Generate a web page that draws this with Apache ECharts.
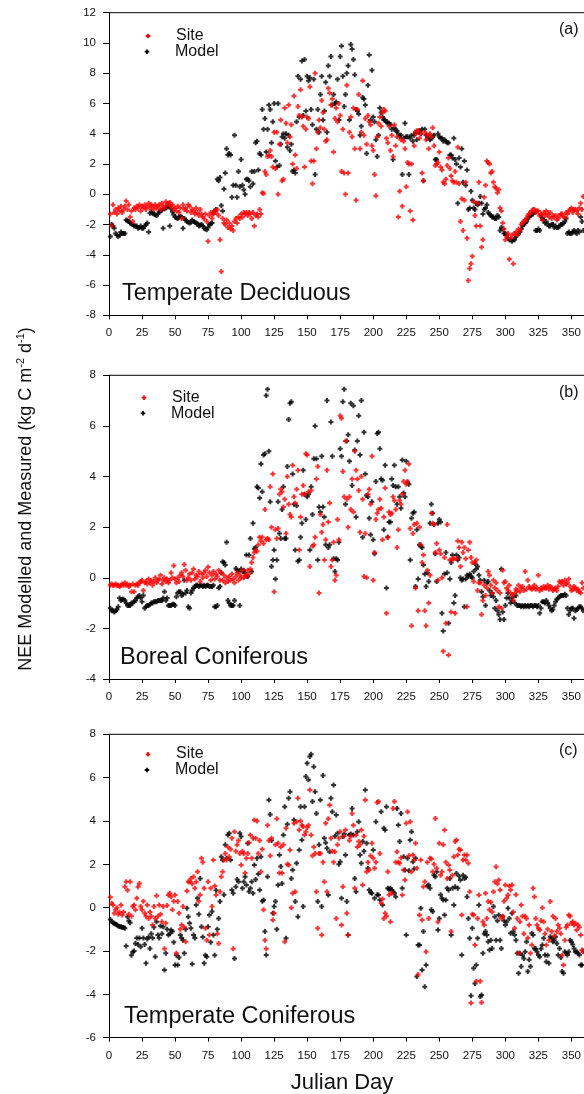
<!DOCTYPE html>
<html>
<head>
<meta charset="utf-8">
<script src="https://cdn.jsdelivr.net/npm/echarts@6/dist/echarts.min.js"></script>
<style>
  html, body { margin: 0; padding: 0; background: #fff; }
  #chart { width: 584px; height: 1094px; }
</style>
</head>
<body>
<div id="chart"></div>
<script>
// Daily net ecosystem exchange (kg C m-2 d-1), one value per Julian day 1..365.
const julianDay = Array.from({ length: 365 }, (_, i) => i + 1);
const xTicks = [0, 25, 50, 75, 100, 125, 150, 175, 200, 225, 250, 275, 300, 325, 350];

// (a) Temperate Deciduous
const deciduousSite = [
  -1.3, -2.1, -0.7, -1.2, -1.0, -1.3, -0.9, -1.1, -0.8, -1.2,
  -1.0, -0.8, -0.45, -1.0, -0.7, -1.5, -1.1, -1.8, -0.9, -1.0,
  -0.8, -0.9, -0.7, -1.1, -0.8, -0.9, -0.7, -1.0, -0.8, -0.6,
  -0.9, -0.7, -0.8, -1.0, -0.7, -0.9, -0.8, -0.7, -1.0, -0.6,
  -0.8, -0.9, -0.5, -0.7, -0.6, -0.55, -0.8, -0.7, -1.0, -0.9,
  -1.1, -0.8, -1.2, -0.9, -1.6, -0.7, -1.0, -0.9, -1.1, -0.7,
  -0.8, -1.2, -1.0, -1.1, -1.3, -0.9, -1.2, -1.4, -1.0, -1.3,
  -1.5, -1.6, -1.3, -1.8, -3.1, -1.4, -1.2, -1.6, -1.3, -1.1,
  -1.2, -1.0, -1.4, -3.0, -5.1, -1.6, -1.9, -2.0, -1.7, -2.2,
  -1.9, -2.3, -2.1, -2.4, -1.8, -1.6, -1.9, -1.5, -1.6, -1.3,
  -1.5, -1.2, -1.3, -1.2, -1.4, -1.2, -1.3, -1.6, -1.2, -2.1,
  -1.4, -1.3, -1.5, -1.0, -1.3, 0.1, 0.05, 1.5, 1.3, 2.5,
  2.6, 2.9, 2.5, 1.8, 4.1, 1.7, 4.1, 0.0, 3.3, 4.9,
  0.9, 1.0, 5.7, 4.7, 3.4, 5.9, 3.8, 4.6, 2.0, 6.5,
  2.6, 1.7, 5.8, 5.2, 6.9, 5.1, 4.5, 1.8, 4.3, 5.1,
  5.0, 7.1, 2.2, 0.7, 2.2, 8.0, 3.0, 4.1, 4.9, 4.4,
  6.2, 5.4, 4.3, 3.5, 3.6, 7.0, 6.7, 5.9, 6.3, 2.8,
  5.0, 5.7, 4.8, 6.0, 5.2, 1.5, 4.3, 1.4, 0.0, 7.2,
  1.4, 4.1, 5.1, 3.8, 5.7, 3.0, -0.4, 5.6, 6.6, 3.0,
  4.1, 7.5, 3.9, 5.0, 3.3, 5.2, 4.8, 4.6, 3.2, 2.9,
  1.3, -0.1, 3.8, 4.7, 5.1, 4.5, 5.4, 5.6, 5.5, 3.7,
  3.4, 4.5, 2.9, 3.9, 2.5, 4.6, 3.2, 3.8, -1.5, 0.2,
  3.6, -0.8, 3.5, 3.0, 0.5, 2.1, 2.0, -1.1, 2.0, -1.7,
  3.2, 4.0, 4.2, 4.2, 3.7, 4.0, 1.4, 0.9, 4.1, 3.6,
  3.9, 3.0, 4.0, 3.8, 4.4, 3.2, 1.9, 2.0, 2.1, 2.8,
  1.8, 1.6, 0.8, 0.7, 1.0, 1.9, 2.4, 1.7, 1.2, 0.9,
  0.8, 1.5, 0.8, 3.1, 0.7, -1.8, -0.3, -2.4, -0.4, 0.8,
  -2.9, -5.7, -4.9, -4.6, -4.1, -0.5, -1.4, -2.1, -0.6, 0.8,
  -2.1, -3.5, -3.0, -0.2, 0.6, 2.2, 2.1, 2.0, 1.4, 1.5,
  0.8, 0.5, 0.4, 0.1, 0.3, -0.9, -1.1, -1.9, -2.3, -3.0,
  -2.8, -2.6, -4.3, -2.9, -2.7, -4.6, -2.6, -2.5, -2.7, -2.3,
  -2.4, -2.0, -1.9, -1.8, -1.7, -1.6, -1.4, -1.3, -1.2, -1.1,
  -1.0, -1.0, -1.2, -1.1, -1.1, -1.4, -1.3, -1.7, -1.2, -1.4,
  -1.1, -1.3, -1.5, -1.2, -1.6, -1.4, -1.5, -1.4, -1.7, -1.6,
  -1.4, -1.3, -1.3, -1.5, -1.5, -1.2, -1.3, -1.1, -1.0, -0.9,
  -1.2, -1.0, -1.0, -1.1, -1.3, -0.9, -0.6, -1.0, -0.15, -0.4,
  -1.0, -1.2, -0.8, -1.1, -1.0
];
const deciduousModel = [
  -2.8, -2.0, -2.1, -2.25, -2.6, -2.7, -2.8, -2.7, -2.5, -2.6,
  -2.6, -2.6, -1.7, -1.75, -1.8, -1.9, -1.95, -2.0, -2.1, -2.1,
  -2.1, -2.25, -2.2, -2.1, -2.25, -2.25, -2.1, -2.0, -1.9, -2.5,
  -1.25, -1.15, -1.25, -1.3, -1.35, -1.4, -1.3, -1.15, -1.1, -1.05,
  -2.25, -0.95, -0.9, -0.85, -0.8, -2.1, -0.95, -1.15, -1.35, -1.5,
  -1.55, -1.6, -1.5, -1.45, -1.5, -2.25, -1.6, -1.7, -1.8, -1.85,
  -1.9, -1.85, -1.7, -1.8, -1.85, -1.9, -1.95, -2.1, -2.05, -2.0,
  -2.1, -2.25, -2.3, -2.35, -2.2, -2.0, -1.95, -1.9, -1.25, -1.1,
  -1.0, 1.0, 0.9, 1.1, -0.75, -1.1, 0.35, 1.4, 3.0, 2.6,
  2.7, 2.6, -0.2, 0.6, 3.9, 0.6, -0.2, 1.5, 0.5, 2.3,
  0.6, 0.3, 0.0, 1.0, 1.0, 0.9, 0.5, 1.5, 0.7, 1.5,
  3.4, 3.5, 1.6, 2.7, 2.6, 5.6, 4.3, 5.0, 2.8, 4.3,
  5.9, 5.6, 3.4, 4.8, 6.0, 2.2, 1.8, 6.0, 1.9, 3.3,
  3.8, 4.0, 3.7, 4.0, 3.1, 3.9, 2.9, 3.3, 1.5, 1.6,
  1.4, 4.8, 7.8, 5.1, 7.6, 8.8, 5.2, 8.9, 5.5, 7.8,
  7.5, 7.7, 5.6, 4.6, 7.6, 1.3, 4.3, 5.6, 4.1, 6.6,
  7.8, 4.9, 5.5, 7.4, 4.1, 8.5, 7.8, 9.1, 5.9, 6.6,
  6.0, 6.1, 7.6, 4.9, 9.1, 9.8, 7.8, 5.8, 6.6, 8.0,
  8.5, 4.9, 9.9, 9.6, 8.9, 7.9, 5.6, 5.5, 5.3, 3.9,
  4.5, 6.4, 6.3, 5.9, 2.7, 7.2, 9.2, 4.9, 8.2, 5.1,
  4.8, 3.6, 2.5, 3.9, 5.7, 5.4, 5.1, 4.9, 4.9, 4.8,
  4.7, 4.7, 4.6, 4.3, 2.3, 4.4, 4.2, 4.2, 4.0, 3.8,
  3.9, 1.3, 3.7, 4.7, 3.8, 3.8, 1.3, 3.7, 3.9, 3.5,
  3.9, 4.1, 3.6, 4.1, 4.2, 4.0, 4.3, 0.9, 4.3, 3.9,
  3.7, 3.9, 3.6, 3.7, 3.8, 3.9, 2.3, 2.3, 4.0, 3.8,
  3.7, 3.7, 3.5, 3.6, 3.5, 3.4, 3.4, 2.6, 2.6, 2.4,
  3.7, 2.3, 2.0, -0.6, 2.4, 1.8, 3.0, 0.8, 2.2, 0.6,
  1.6, -1.0, -0.9, 0.2, -0.4, -0.9, -1.0, -0.6, -0.7, -0.6,
  -0.15, -0.6, -1.3, -1.0, -0.9, -0.7, -1.2, -1.3, -1.4, -1.5,
  -1.5, -1.6, -1.6, -1.4, -1.5, -2.4, -2.2, -2.3, -2.6, -2.6,
  -2.7, -2.9, -3.0, -3.0, -3.1, -3.0, -3.0, -2.8, -2.7, -2.6,
  -2.5, -2.3, -2.1, -2.0, -1.9, -1.8, -1.6, -1.5, -1.4, -1.3,
  -1.3, -1.2, -2.4, -2.4, -2.3, -2.4, -1.4, -1.6, -1.7, -1.9,
  -1.8, -2.0, -2.1, -2.1, -2.0, -2.0, -2.2, -2.1, -2.2, -2.2,
  -2.1, -2.0, -2.0, -1.9, -1.8, -1.6, -2.6, -2.5, -2.6, -2.6,
  -2.5, -2.4, -2.5, -2.6, -2.4, -2.5, -1.5, -1.8, -2.4, -2.5,
  -2.6, -2.5, -2.4, -2.6, -2.5
];

// (b) Boreal Coniferous
const borealSite = [
  -0.3, -0.25, -0.3, -0.3, -0.25, -0.3, -0.3, -0.35, -0.3, -0.25,
  -0.3, -0.2, -0.3, -0.25, -0.35, -0.3, -0.55, -0.25, -0.55, -0.3,
  -0.25, -0.3, -0.2, -0.15, -0.1, -0.5, -0.2, -0.15, -0.25, -0.05,
  -0.2, -0.1, -0.3, -0.15, 0.0, -0.2, -0.1, -0.05, 0.1, -0.25,
  -0.1, 0.0, -0.15, -0.05, -0.2, -0.1, 0.2, 0.0, 0.47, -0.05,
  -0.2, 0.0, -0.15, 0.1, 0.2, 0.05, 0.52, 0.3, -0.1, 0.0,
  0.15, -0.1, 0.2, 0.35, -0.05, 0.1, 0.05, 0.25, -0.15, 0.15,
  0.0, 0.2, 0.3, 0.05, 0.43, 0.2, -0.1, 0.1, 0.25, -0.05,
  0.15, 0.05, 0.3, -0.1, 0.2, -0.1, 0.1, -0.2, 0.0, -0.15,
  0.05, -0.1, 0.15, -0.05, -0.2, 0.05, 0.2, -0.1, 0.1, 0.0,
  0.3, 0.0, 0.1, 0.05, 0.3, 0.15, 0.35, 0.6, 0.8, 1.0,
  1.1, 1.05, 1.3, 1.6, 1.45, 1.6, 1.35, 2.7, 1.5, 1.55,
  1.5, 3.6, 2.0, 4.1, -0.55, 1.9, 1.55, 1.95, 3.3, 3.5,
  3.4, 2.8, 3.1, 1.75, 4.0, 2.9, 2.5, 2.4, 4.45, 3.2,
  2.95, 3.5, 4.25, 1.1, 2.4, 3.3, 3.65, 3.3, 4.9, 4.85,
  3.4, 0.45, 3.45, 1.25, 1.3, 1.6, 3.9, 4.4, -0.6, 2.5,
  1.8, 2.1, 0.7, 1.5, 4.25, 2.2, 2.95, 0.45, 0.7, 1.4,
  -0.1, 0.1, 2.3, 1.5, 6.4, 6.3, 4.2, 3.2, 5.4, 3.1,
  2.0, 3.2, 2.7, 3.9, 2.6, 5.0, 4.25, 3.9, 3.45, 1.8,
  4.0, 3.1, 0.05, 1.75, 0.0, 3.3, 3.5, 2.9, 4.8, -0.1,
  1.0, 2.3, 2.55, 2.7, 3.1, 2.75, 1.5, 2.4, 3.55, -1.4,
  1.6, 2.6, 2.5, 2.55, 3.2, 3.05, 2.7, 1.2, 1.9, 3.05,
  2.9, 3.3, 3.8, 4.25, 3.7, 3.8, 4.5, 1.95, -1.9, 1.75,
  2.1, -0.4, 2.15, -1.3, 2.0, 1.3, 0.6, 0.9, -1.3, -1.9,
  0.3, -1.0, 0.1, 2.55, 2.15, 2.1, 1.0, 1.35, -0.1, 1.1,
  0.95, 0.0, -2.9, 0.8, -1.8, 2.1, -3.05, 0.7, -1.35, 0.75,
  0.75, -1.4, 0.75, 1.45, 1.2, 0.45, 1.4, 1.0, 1.2, 0.75,
  -1.15, 1.1, 1.4, 0.8, 0.6, -0.15, 0.6, 0.7, -0.5, -0.2,
  -0.2, -1.45, -0.9, -0.3, -0.7, -0.4, 0.25, 0.1, -0.3, -0.6,
  -0.1, -0.4, -0.2, -0.5, -1.15, -0.6, -1.2, 0.3, -0.2, -0.15,
  -0.4, -0.5, -0.3, -0.6, -0.7, -0.9, -0.6, -0.45, -0.5, -0.3,
  -0.55, -0.4, -0.35, -0.5, 0.25, -0.45, -0.1, -0.35, -0.4, -0.45,
  -0.4, -0.3, -0.45, -0.4, 0.1, -0.5, -0.4, -0.45, -0.35, -0.4,
  -0.4, -0.3, -0.45, -0.35, -0.4, -0.5, -0.45, -0.4, -0.5, -0.35,
  -0.15, -0.2, -0.15, -0.3, -0.1, -0.25, -0.2, -0.05, -0.35, -0.5,
  -0.45, -0.35, -0.4, -0.5, -0.45, -0.55, -0.6, -0.2, -0.4, -0.5,
  -0.45, -0.35, -0.5, -0.4, -0.45
];
const borealModel = [
  -1.2, -1.3, -1.3, -1.35, -1.3, -1.25, -1.15, -0.8, -0.9, -0.85,
  -0.85, -0.9, -1.0, -1.1, -1.1, -1.1, -1.0, -1.0, -0.95, -0.9,
  -0.8, -0.75, -0.7, -0.8, -0.95, -0.7, -1.2, -1.15, -1.1, -1.1,
  -1.05, -1.0, -1.0, -0.95, -0.95, -0.95, -0.9, -0.9, -0.9, -0.9,
  -0.8, -0.55, -0.9, -0.8, -1.1, -1.1, -1.1, -1.05, -1.05, -1.1,
  -0.75, -0.6, -0.55, -0.55, -0.7, -0.65, -0.1, -0.6, -0.5, -1.15,
  -1.2, -0.6, -0.5, -0.4, -0.35, -0.3, -0.3, -0.35, -0.3, -0.3,
  -0.35, -0.3, -0.35, -0.3, -0.3, -0.35, -0.35, -0.35, -0.3, -1.15,
  -1.15, -1.1, -0.4, -0.35, 0.2, 0.63, 0.6, 0.5, 1.4, -0.9,
  -1.0, -1.1, -1.1, -1.1, -0.9, 0.37, 0.3, 0.25, -1.1, 0.35,
  0.25, 0.3, 0.2, 0.9, 0.05, 0.9, 1.55, 0.25, 2.15, 1.15,
  1.2, 3.6, 3.55, 3.15, 4.5, 3.4, 4.85, 4.9, 7.2, 7.45,
  5.0, 3.0, 0.45, 0.7, 1.1, -0.05, 0.7, 3.0, 1.75, 1.55,
  2.7, 3.6, 1.55, 1.55, 4.4, 6.25, 6.9, 6.95, 4.1, 2.9,
  1.1, 2.85, 0.65, 0.7, 1.6, 2.15, 4.25, 3.3, 2.3, 3.2,
  3.3, 1.1, 3.6, 2.5, 4.7, 6.0, 4.7, 0.7, 2.8, 2.6,
  4.8, 2.8, 2.4, 1.3, 7.0, 1.2, 1.3, 6.15, 4.8, 0.75,
  0.25, 0.75, 0.7, 1.4, 5.1, 4.8, 6.95, 7.45, 2.9, 5.4,
  5.65, 4.6, 6.9, 3.65, 6.8, 5.05, 2.4, 5.4, 6.4, 4.85,
  7.0, 1.6, 5.75, 4.1, 3.25, 3.2, 2.35, 1.7, 3.0, 1.5,
  0.95, 3.8, 5.7, 5.75, 5.1, 3.9, 3.85, 1.9, 4.45, -0.4,
  1.6, 2.2, 2.2, 3.9, 3.65, 4.45, 3.6, 2.9, 3.6, 3.2,
  2.75, 4.65, 3.35, 3.2, 4.6, 3.75, 3.7, 0.7, 2.35, 2.55,
  2.6, -0.35, 1.9, -0.05, 1.3, 1.25, 1.2, 0.5, 0.15, -0.35,
  0.2, -0.15, 2.15, 2.9, 2.55, 2.1, 0.95, -0.15, 2.15, 2.3,
  2.2, -1.4, -2.1, 0.15, 1.0, 0.2, -1.8, -0.05, 0.6, 0.9,
  -1.0, -0.7, 0.9, 0.7, 0.8, 0.0, -0.1, -0.05, -1.15, -0.05,
  0.1, 0.05, 0.15, 0.05, 0.0, 0.25, 0.55, 0.35, 0.45, 0.1,
  -0.1, -0.55, -0.75, -0.1, -1.1, -0.2, -0.15, -0.5, -0.7, -0.6,
  -0.75, -1.2, -0.9, -1.3, -1.45, -1.65, 0.35, -1.35, -1.65, -1.1,
  -0.8, -0.6, -0.8, -1.0, -0.9, -0.75, -1.0, -0.7, -1.1, -1.1,
  -1.1, -1.15, -1.1, -1.15, -1.1, -1.15, -1.1, -1.15, -1.1, -1.1,
  -1.15, -1.1, -1.1, -1.15, -1.1, -1.4, -1.2, -0.95, -0.95, -1.0,
  -0.9, -1.0, -1.1, -1.2, -1.3, -1.25, -1.1, -0.95, -0.85, -0.8,
  -0.75, -0.7, -0.7, -0.7, -0.65, -0.7, -1.2, -1.45, -1.3, -1.2,
  -1.2, -1.6, -1.3, -1.25, -1.2, -1.15, -1.15, -1.2, -1.3, -1.25,
  -1.2, -1.3, -1.25, -1.2, -1.3
];

// (c) Temperate Coniferous
const coniferousSite = [
  0.48, 0.2, 0.12, -0.26, -0.1, 0.0, -0.3, -0.2, 0.12, -0.34,
  -0.2, 0.97, 1.2, 0.8, -0.3, 1.2, -0.4, 0.05, 0.12, -0.1,
  0.43, 0.97, 1.12, 0.05, -0.1, 0.3, -0.26, -0.4, 0.12, -0.5,
  -0.2, -0.4, -0.8, 0.05, -0.5, 0.55, -0.4, 0.12, -0.3, -0.65,
  0.05, -1.9, -0.72, 0.1, 0.58, 0.66, 0.5, -0.1, 0.3, 0.58,
  -2.1, 0.28, -0.26, -1.0, -0.8, 0.05, -0.9, -1.57, 0.77, 1.2,
  1.2, 1.35, 1.1, 1.43, 0.9, 1.2, 1.66, 0.3, 0.58, 2.28,
  2.1, 0.9, -0.95, -1.5, 1.2, -1.26, 0.9, 0.05, 2.2, 1.0,
  0.58, -1.2, -1.65, 0.74, 1.43, 1.66, 2.2, 2.5, 2.2, 2.8,
  2.35, 2.7, 3.2, -1.9, 3.5, 2.6, 2.9, 3.1, 2.5, 1.97,
  2.6, 2.5, 1.6, 2.28, 2.5, 3.0, 3.35, 2.28, 3.2, 4.05,
  3.2, 4.0, 2.5, 3.1, 1.66, 2.7, -0.1, -1.5, -1.9, 3.8,
  3.1, 2.4, 3.2, -0.57, -0.26, 2.9, 4.1, 2.97, 1.6, 2.8,
  1.6, 2.9, -1.57, 3.66, 2.0, 1.97, 2.66, 0.0, 0.66, 3.9,
  0.74, 3.97, 5.05, 3.58, 4.0, 3.8, 3.74, 3.35, 3.5, 3.7,
  3.8, 5.43, 3.35, 2.4, 2.8, 2.5, 0.74, -0.95, 2.5, 2.5,
  -1.26, 2.1, 1.2, 3.9, 0.74, 4.1, 4.74, 3.2, 2.6, 2.1,
  2.58, -0.5, 2.9, 3.2, 3.5, -0.8, 0.97, 3.3, 3.58, -0.26,
  -1.26, 3.1, 3.3, 4.35, 3.8, 0.9, 3.35, 2.8, 3.05, 2.9,
  3.58, 1.05, 3.3, 4.97, 1.66, 2.1, 1.74, 2.4, 2.97, 2.28,
  1.82, 2.1, 4.85, 4.9, 2.5, 0.2, 0.4, -0.5, -0.26, -0.4,
  1.66, 0.6, -0.65, 0.66, 4.58, 4.9, 2.1, 2.58, 2.1, 2.05,
  2.3, 0.58, 1.74, 1.28, 3.9, 4.43, 2.4, 3.97, 1.66, 2.43,
  2.2, 2.97, 1.82, -3.08, -0.34, 2.2, -0.57, 0.97, 1.2, -2.03,
  2.1, -0.5, 2.28, 2.25, 1.66, 2.0, 4.12, 1.82, -0.65, 2.97,
  1.5, 1.66, 2.9, 3.58, 2.1, 1.35, 1.97, 1.74, -1.1, 1.5,
  2.35, 3.05, 3.12, 2.43, 2.7, 2.66, -0.34, 2.2, 2.43, 2.2,
  2.43, 2.05, 0.74, -4.4, -0.3, -0.34, -1.72, -3.4, -0.5, 0.58,
  -3.4, -4.38, -0.65, -0.8, 0.66, -0.5, 0.28, -0.1, 0.25, -0.2,
  0.74, 1.2, 1.89, 1.1, 1.28, 0.82, -0.5, -0.4, 0.3, 1.05,
  0.43, 0.58, 1.0, 0.82, 1.05, -0.2, -0.95, 0.6, -0.5, -2.1,
  -0.65, 0.12, -0.4, -1.2, -0.4, -0.5, -1.4, -0.8, -2.1, -1.72,
  0.9, 0.5, -0.5, -0.8, -0.95, -1.03, -0.6, 0.0, -0.65, -1.2,
  -1.72, -1.0, -1.5, 0.28, -1.1, -0.4, -1.3, -0.5, -1.1, -0.8,
  -0.95, -1.2, -2.2, -2.65, -1.5, -0.9, -0.8, -0.34, -0.4, -0.72,
  -0.65, -0.8, -0.72, -1.03, -0.8, -0.9, -1.26, -1.95, -2.03, -1.9,
  -2.0, -1.9, -2.1, -1.95, -2.0
];
const coniferousModel = [
  -0.55, -0.65, -0.7, -0.72, -0.77, -0.8, -0.85, -0.87, -0.88, -0.9,
  -0.92, -0.95, -1.77, -0.42, -0.6, -0.7, -2.2, -2.05, -2.0, -1.65,
  -1.4, -1.7, -1.4, -1.8, -0.95, -1.4, -1.7, -2.57, -1.45, -1.35,
  -1.88, -1.2, -1.4, -0.9, -2.26, -0.65, -1.26, -1.4, -0.85, -1.2,
  -0.88, -2.88, -2.1, -1.0, -1.26, -1.2, -1.03, -1.1, -1.6, -2.65,
  -2.2, -2.65, -2.3, -1.26, -1.4, -1.5, -2.1, -1.0, -0.03, -0.42,
  -0.72, -0.95, -2.6, -1.26, -1.4, 0.12, 0.43, -0.3, 1.35, -0.88,
  -1.35, -2.57, -2.2, -2.26, -0.88, -0.34, -1.6, -0.18, -1.26, -2.2,
  0.8, -1.0, -0.5, 0.28, 2.35, 2.2, 0.6, 2.9, 2.28, 3.35,
  3.43, 2.2, 0.82, 0.66, -2.34, 0.97, 1.3, 1.2, 3.43, 3.28,
  0.9, 1.2, 1.43, 1.05, 2.97, 0.75, 0.9, 1.2, 0.66, 1.97,
  1.3, 2.28, 1.55, 0.82, 2.35, 0.3, 0.35, -1.1, -2.18, 1.43,
  4.97, 4.3, 3.1, -0.26, 0.05, 0.28, -1.0, 1.05, 2.43, 1.9,
  1.12, 3.35, 4.66, -1.41, 3.85, 5.05, 5.35, 1.35, 1.74, 4.05,
  0.28, 2.05, -0.42, 2.66, 4.66, 3.12, 0.05, 4.66, 6.05, 6.66,
  5.9, 6.97, 7.08, 4.9, 6.5, 5.35, 4.35, 0.28, 2.9, 4.97,
  0.05, 6.1, 3.2, 3.0, 2.74, 0.58, 2.58, 5.05, 4.43, 5.66,
  3.3, 4.28, 3.43, 2.0, 2.12, 0.43, 3.28, 3.4, 2.43, 0.28,
  -1.26, 3.35, 3.4, 4.58, 3.35, 1.35, 0.74, 3.5, 3.97, 2.43,
  2.05, 3.05, 2.6, 5.43, 2.97, 1.82, 0.82, 0.7, 0.66, 2.66,
  0.43, 3.97, 0.6, 0.58, 0.35, 4.43, 0.12, 3.66, 3.58, 4.66,
  0.9, 0.85, 0.9, 0.82, 0.74, 0.66, 0.5, 4.58, 3.82, 3.05,
  4.35, 0.9, 2.35, 1.74, -1.26, 2.28, 1.7, 3.12, 3.5, 2.12,
  1.8, 2.28, -3.18, -1.72, -1.72, -0.03, -2.88, -1.1, -3.65, -2.65,
  1.0, 1.05, 0.9, -0.1, -0.18, 1.5, 1.43, 1.66, -1.03, -0.5,
  0.6, 0.43, 0.35, -0.34, 0.35, 0.9, 0.82, 1.35, -1.26, 0.9,
  0.12, 0.97, 1.58, 0.9, 1.45, 1.28, -2.18, 1.5, 1.35, 1.4,
  0.5, -0.5, -1.41, -4.06, -0.95, -2.8, -3.5, -2.65, -1.41, 0.12,
  -4.1, -4.03, -2.1, -1.2, -1.1, -1.26, -1.57, -1.95, -1.5, -1.88,
  0.05, -0.42, -1.5, -0.6, -0.34, -1.5, -1.88, -0.42, -0.6, -0.8,
  -0.65, -0.03, -0.5, -1.18, -0.26, -1.1, -1.26, -1.5, -2.1, -3.03,
  -2.1, -2.72, -2.2, -2.34, -2.03, -1.57, -2.95, -2.4, -2.72, -1.18,
  -1.26, -1.88, -1.9, -2.03, -2.18, -2.26, -1.9, -1.72, -1.41, -2.18,
  -2.49, -2.2, -2.57, -1.34, -1.41, -1.57, -1.5, -1.34, -1.65, -2.18,
  -1.88, -2.3, -2.95, -3.03, -2.03, -2.1, -2.18, -2.03, -1.5, -1.57,
  -1.7, -1.88, -2.03, -2.03, -2.1, -2.18, -2.65, -2.65, -2.0, -1.95,
  -2.0, -2.1, -2.0, -2.05, -2.1
];

const panels = [
  { title: 'Temperate Deciduous', tag: '(a)', site: deciduousSite, model: deciduousModel, yMin: -8, yMax: 12 },
  { title: 'Boreal Coniferous', tag: '(b)', site: borealSite, model: borealModel, yMin: -4, yMax: 8 },
  { title: 'Temperate Coniferous', tag: '(c)', site: coniferousSite, model: coniferousModel, yMin: -6, yMax: 8 }
];

// Plot frames: the day axis runs on past the right edge of the page,
// so the visible part ends near day 359.
const FONT = '"Liberation Sans", Arial, Helvetica, sans-serif';
const frames = [
  { top: 12.7, height: 302.6 },
  { top: 375.3, height: 303.7 },
  { top: 734.3, height: 303.4 }
];
const PLOT_LEFT = 109;
const PLOT_WIDTH = 475;
const DAY_AT_EDGE = 359.25;
const SITE_COLOR = '#ff0000';
const MODEL_COLOR = '#000000';
const PLUS = 'path://M1.5,0H3.5V1.5H5V3.5H3.5V5H1.5V3.5H0V1.5H1.5Z';

function toPoints(values) {
  return julianDay.map((d, i) => [d, values[i]]).filter(p => p[1] !== undefined && p[1] !== null);
}

function plusMark(cx, cy, color) {
  const a = 0.9, b = 2.3;
  return {
    type: 'polygon',
    silent: true,
    shape: { points: [
      [cx - a, cy - b], [cx + a, cy - b], [cx + a, cy - a], [cx + b, cy - a],
      [cx + b, cy + a], [cx + a, cy + a], [cx + a, cy + b], [cx - a, cy + b],
      [cx - a, cy + a], [cx - b, cy + a], [cx - b, cy - a], [cx - a, cy - a]
    ] },
    style: { fill: color }
  };
}

function label(text, x, y, size, align) {
  return {
    type: 'text', x: x, y: y, silent: true,
    style: {
      text: text, font: size + 'px ' + FONT, fill: '#111',
      align: align || 'left', verticalAlign: 'middle',
      textAlign: align || 'left', textVerticalAlign: 'middle'
    }
  };
}

const grid = frames.map(f => ({
  left: PLOT_LEFT, top: f.top, width: PLOT_WIDTH, height: f.height,
  show: false, containLabel: false
}));

const xAxis = panels.map((p, i) => ({
  type: 'value', gridIndex: i, min: 0, max: DAY_AT_EDGE, interval: 25,
  axisLine: { show: true, onZero: false, lineStyle: { color: '#000', width: 1 } },
  axisTick: { show: true, inside: false, length: 4, lineStyle: { color: '#000' } },
  axisLabel: {
    show: true, margin: 12, fontSize: 11.5, fontFamily: FONT, color: '#111',
    showMaxLabel: false,
    formatter: v => (xTicks.indexOf(v) >= 0 ? String(v) : '')
  },
  splitLine: { show: false }
}));

const yAxis = panels.map((p, i) => ({
  type: 'value', gridIndex: i, min: p.yMin, max: p.yMax, interval: 2,
  axisLine: { show: true, onZero: false, lineStyle: { color: '#000', width: 1 } },
  axisTick: { show: true, inside: false, length: 6, lineStyle: { color: '#000' } },
  axisLabel: { show: true, margin: 13, fontSize: 11.5, fontFamily: FONT, color: '#111' },
  splitLine: { show: false }
}));

const series = [];
panels.forEach((p, i) => {
  series.push({
    name: 'Model', type: 'scatter', xAxisIndex: i, yAxisIndex: i,
    data: toPoints(p.model), symbol: PLUS, symbolSize: 5, clip: true,
    itemStyle: { color: MODEL_COLOR }, silent: true, z: 2
  });
  series.push({
    name: 'Site', type: 'scatter', xAxisIndex: i, yAxisIndex: i,
    data: toPoints(p.site), symbol: PLUS, symbolSize: 5, clip: true,
    itemStyle: { color: SITE_COLOR }, silent: true, z: 3
  });
});

// Legend entries, panel tags and titles placed inside each frame
const legendPos = [
  { mx: 148, siteY: 36, modelY: 51.7, tx: 176 },
  { mx: 144, siteY: 397.7, modelY: 413.3, tx: 172 },
  { mx: 148, siteY: 754.3, modelY: 770, tx: 176 }
];
const titlePos = [
  { x: 122, y: 293.5 },
  { x: 120, y: 658 },
  { x: 124, y: 1016.5 }
];
const tagPos = [30, 393, 751];

const graphic = [];
panels.forEach((p, i) => {
  const L = legendPos[i];
  const top = frames[i].top;
  // top edge of the frame
  graphic.push({
    type: 'line', silent: true,
    shape: { x1: PLOT_LEFT, y1: top, x2: 584, y2: top },
    style: { stroke: '#000', lineWidth: 1 }
  });
  graphic.push(plusMark(L.mx, L.siteY, SITE_COLOR));
  graphic.push(plusMark(L.mx - 1, L.modelY, MODEL_COLOR));
  graphic.push(label('Site', L.tx, L.siteY - 0.5, 16));
  graphic.push(label('Model', L.tx - 1, L.modelY, 16));
  graphic.push(label(p.title, titlePos[i].x, titlePos[i].y, 23.5));
  graphic.push(label(p.tag, 559, tagPos[i], 16));
});

graphic.push(label('Julian Day', 342, 1083, 22, 'center'));

graphic.push({
  type: 'text', x: 26, y: 499, rotation: Math.PI / 2, silent: true,
  style: {
    text: '{n|NEE Modelled and Measured (kg C m}{s|-2}{n| d}{s|-1}{n|)}',
    align: 'center', verticalAlign: 'middle',
    textAlign: 'center', textVerticalAlign: 'middle',
    fill: '#111',
    rich: {
      n: { fontSize: 18, fontFamily: FONT, color: '#111', lineHeight: 22 },
      s: { fontSize: 11, fontFamily: FONT, color: '#111', lineHeight: 22, verticalAlign: 'top' }
    }
  }
});

const chart = echarts.init(document.getElementById('chart'), null, { renderer: 'canvas' });
chart.setOption({
  animation: false,
  backgroundColor: '#fff',
  grid: grid,
  xAxis: xAxis,
  yAxis: yAxis,
  series: series,
  graphic: graphic
});
</script>
</body>
</html>
